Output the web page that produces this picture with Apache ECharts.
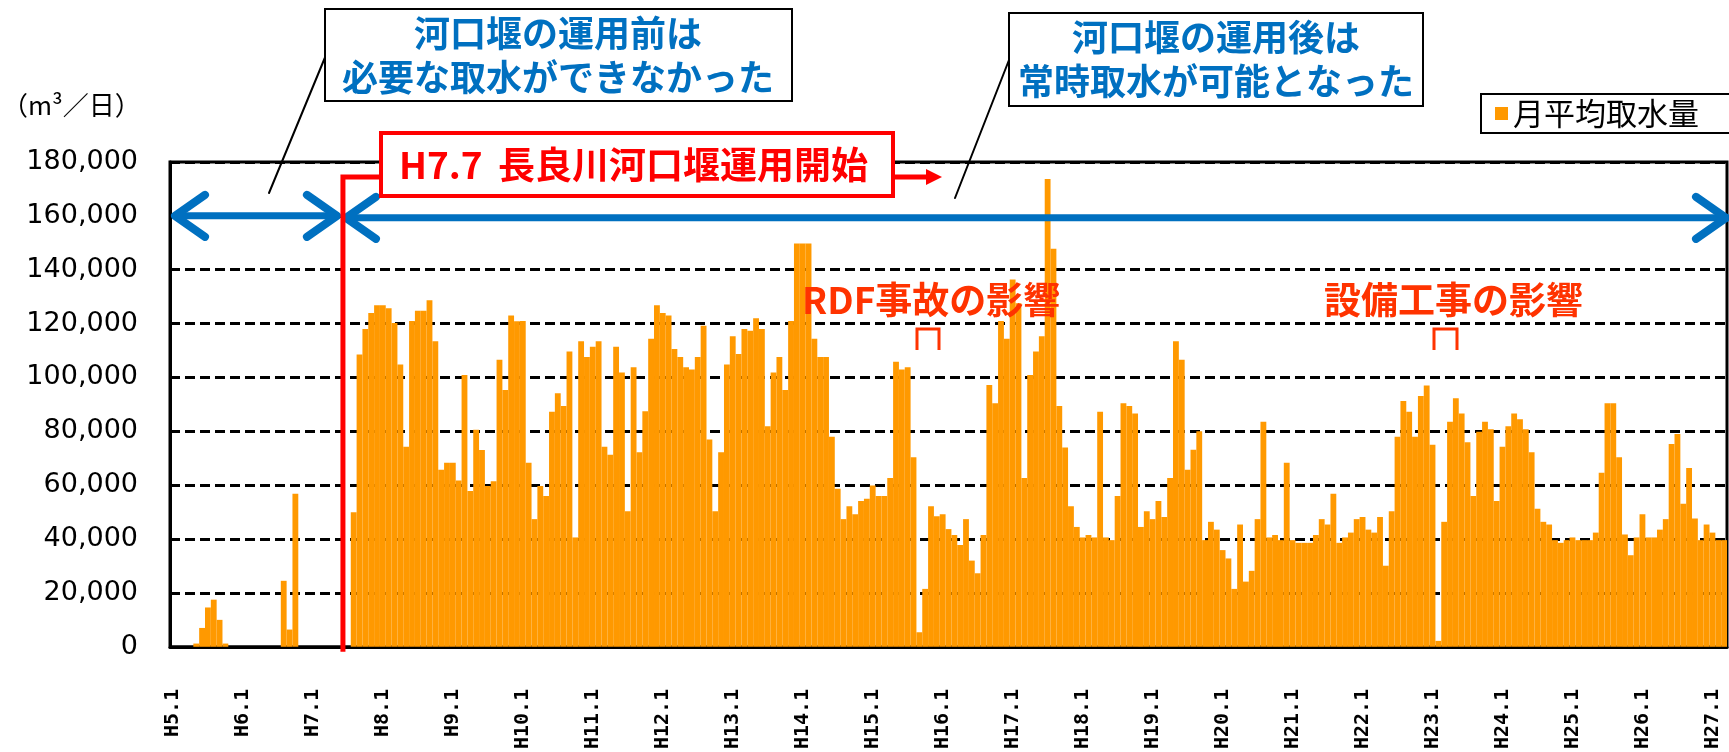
<!DOCTYPE html>
<html>
<head>
<meta charset="utf-8">
<title>長良川河口堰 月平均取水量</title>
<script src="https://cdn.jsdelivr.net/npm/echarts@6/dist/echarts.min.js"></script>
<style>
html, body { margin: 0; padding: 0; background: #fff; }
#container { width: 1729px; height: 752px; }
</style>
</head>
<body>
<div id="container"></div>
<script>
// 平成の年 (H5.1 ～ H27.3 の月別)
var years = [5, 6, 7, 8, 9, 10, 11, 12, 13, 14, 15, 16, 17, 18, 19, 20, 21, 22, 23, 24, 25, 26, 27];
var lastMonth = 3;

// 月平均取水量 (m3/日), 1行 = 1年 (1月～12月)
var intake = [
	0, 0, 0, 0, 1200, 7000, 14600, 17500, 10000, 1200, 0, 0,                        // H5
	0, 0, 0, 0, 0, 0, 0, 24500, 6400, 56800, 0, 0,                                  // H6
	0, 0, 0, 0, 0, 0, 0, 50000, 108500, 118000, 123900, 126800,                     // H7
	126800, 125700, 120200, 104800, 74300, 121000, 124800, 124800, 128700, 113400, 65700, 68300, // H8
	68300, 61700, 100900, 57800, 80600, 73100, 59700, 61500, 106600, 95300, 123000, 120900,     // H9
	121000, 68300, 47400, 59700, 56000, 87300, 94100, 89400, 109600, 40600, 113400, 107600,     // H10
	111400, 113400, 74300, 71300, 111400, 101800, 50300, 103800, 72200, 87500, 114400, 126800,  // H11
	123900, 123000, 110600, 107600, 103800, 103000, 107600, 119200, 77000, 50300, 72200, 104800, // H12
	115300, 108700, 118000, 117300, 122000, 118000, 81900, 101800, 107600, 95300, 121000, 149700, // H13
	149700, 149700, 114400, 107600, 107600, 78000, 58700, 47400, 52200, 49200, 54100, 55000,    // H14
	59900, 56000, 56000, 62700, 105800, 103000, 103800, 70400, 5400, 21500, 52200, 48500,       // H15
	49200, 43700, 41500, 37800, 47400, 32000, 27300, 41500, 97200, 90400, 121000, 114400,       // H16
	136400, 127600, 62700, 100900, 109600, 115300, 173700, 147800, 89400, 74000, 52200, 44500,  // H17
	40600, 41500, 40600, 87300, 40600, 39600, 56000, 90400, 89400, 86600, 44500, 50300,         // H18
	47400, 54100, 48200, 62700, 113400, 106600, 65700, 73200, 80000, 39600, 46400, 43500,       // H19
	35900, 32800, 21500, 45400, 24200, 28200, 47400, 83600, 40600, 41500, 39600, 68300,         // H20
	39600, 38600, 38600, 38600, 41500, 47400, 45400, 56800, 38600, 40600, 42400, 47400,         // H21
	48200, 43500, 42400, 48200, 30100, 50300, 78000, 91300, 87300, 78000, 93100, 97000,         // H22
	75000, 2200, 46400, 83600, 92300, 86600, 75900, 56000, 79800, 83600, 80800, 54100,          // H23
	74300, 81900, 86600, 84500, 80800, 72200, 51300, 46400, 45400, 39600, 38600, 39600,         // H24
	40600, 39600, 39600, 39600, 42400, 64600, 90400, 90400, 70400, 41700, 34000, 40600,         // H25
	49200, 40600, 40600, 43500, 47400, 75300, 79000, 53100, 66400, 47600, 39600, 45400,         // H26
	42400, 39600, 39600                                                             // H27
];

// 目盛
var yMax = 180000;
var yStep = 20000;

var categories = [];
years.forEach(function(y) {
	for (var m = 1; m <= 12; m++) {
		if (y === years[years.length - 1] && m > lastMonth) return;
		categories.push('H' + y + '.' + m);
	}
});

var NUM_FONT = 'DejaVu Sans';
var MONO_FONT = 'DejaVu Sans Mono';
var JP_FONT = '"Noto Sans CJK JP"';
var BLUE = '#0070C0';
var RED = '#FF0000';
var NOTE_RED = '#FF3300';

var dom = document.getElementById("container");
var myChart = echarts.init(dom);

var option = {
	animation: false,
	backgroundColor: '#fff',
	grid: {
		left: 170,
		right: 2,
		top: 162,
		bottom: 102,
		show: true,
		borderColor: '#000',
		borderWidth: 3
	},
	legend: {
		left: 1481,
		top: 94,
		selectedMode: false,
		icon: 'rect',
		itemWidth: 13,
		itemHeight: 13,
		padding: [4, 60, 4, 14],
		borderColor: '#000',
		borderWidth: 2,
		textStyle: {
			color: '#000',
			fontSize: 31,
			fontFamily: JP_FONT
		},
		data: ['月平均取水量']
	},
	xAxis: {
		type: 'category',
		data: categories,
		boundaryGap: true,
		axisLine: { lineStyle: { color: '#000', width: 3 } },
		axisTick: {
			inside: true,
			length: 7,
			interval: function(idx) { return idx % 12 === 0; },
			lineStyle: { color: '#000', width: 2 }
		},
		axisLabel: {
			interval: function(idx) { return idx % 12 === 0; },
			rotate: 90,
			margin: 42,
			color: '#000',
			fontSize: 20,
			fontWeight: 'bold',
			fontFamily: MONO_FONT
		},
		splitLine: { show: false }
	},
	yAxis: {
		type: 'value',
		min: 0,
		max: yMax,
		interval: yStep,
		axisLine: { show: true, lineStyle: { color: '#000', width: 3 } },
		axisTick: { show: true, inside: true, length: 6, lineStyle: { color: '#000', width: 2 } },
		axisLabel: {
			margin: 32,
			color: '#000',
			fontSize: 27,
			fontFamily: NUM_FONT,
			formatter: function(v) { return v.toLocaleString('en-US'); }
		},
		splitLine: { lineStyle: { color: '#000', width: 3, type: [10, 5] } }
	},
	series: [
		{
			name: '月平均取水量',
			type: 'bar',
			data: intake,
			barCategoryGap: '0%',
			itemStyle: { color: '#FF9900' }
		}
	]
};

myChart.setOption(option, true);

// 注記類は軸から位置を計算して描く
var y160 = myChart.convertToPixel({ yAxisIndex: 0 }, 160000);
var y0 = myChart.convertToPixel({ yAxisIndex: 0 }, 0);
var xFirst = myChart.convertToPixel({ xAxisIndex: 0 }, categories[0]);
var band = myChart.convertToPixel({ xAxisIndex: 0 }, categories[1]) - xFirst;
var gridLeft = xFirst - band / 2;
var gridRight = gridLeft + band * categories.length;
var xOpen = myChart.convertToPixel({ xAxisIndex: 0 }, 'H7.7') - band / 2 - 2;

function line(points, color, width, extra) {
	var el = {
		type: 'polyline',
		z: 100,
		shape: { points: points },
		style: { stroke: color, lineWidth: width, fill: null, lineCap: 'round', lineJoin: 'round' }
	};
	if (extra) {
		for (var k in extra) el.style[k] = extra[k];
	}
	return el;
}

function head(x, y, dir) {
	return line([[x - dir * 30, y - 21], [x, y], [x - dir * 30, y + 21]], BLUE, 8);
}

function label(text, x, y, size, color, weight, align) {
	return {
		type: 'text',
		z: 110,
		style: {
			text: text,
			x: x,
			y: y,
			fill: color,
			font: (weight || 'normal') + ' ' + size + 'px ' + JP_FONT,
			align: align || 'center',
			textAlign: align || 'center',
			verticalAlign: 'middle',
			textVerticalAlign: 'middle'
		}
	};
}

function box(x, y, w, h, stroke, width) {
	return {
		type: 'rect',
		z: 105,
		shape: { x: x, y: y, width: w, height: h },
		style: { fill: '#fff', stroke: stroke, lineWidth: width }
	};
}

var graphics = [
	// 単位
	label('（m³／日）', 2, 105, 26, '#000', 'normal', 'left'),

	// 運用前
	line([[326, 55], [269, 193]], '#000', 2),
	box(325, 9, 467, 92, '#000', 2),
	label('河口堰の運用前は', 558, 33, 36, BLUE, 'bold'),
	label('必要な取水ができなかった', 558, 77, 36, BLUE, 'bold'),

	// 運用後
	line([[1009, 60], [955, 198]], '#000', 2),
	box(1009, 13, 414, 93, '#000', 2),
	label('河口堰の運用後は', 1216, 37, 36, BLUE, 'bold'),
	label('常時取水が可能となった', 1216, 81, 36, BLUE, 'bold'),

	// 青の両矢印 (160,000 の位置)
	line([[gridLeft + 5, y160], [xOpen - 6, y160]], BLUE, 7),
	head(gridLeft + 5, y160, -1),
	head(xOpen - 6, y160, 1),
	line([[xOpen + 3, y160 + 2], [gridRight, y160 + 2]], BLUE, 7),
	head(xOpen + 3, y160 + 2, -1),
	head(gridRight - 1, y160 + 2, 1),

	// 運用開始の赤線
	line([[xOpen, y0 + 5], [xOpen, 177], [381, 177]], RED, 5, { lineCap: 'butt', lineJoin: 'miter' }),
	box(381, 133, 512, 63, RED, 4),
	label('H7.7', 399, 165, 37, RED, 'bold', 'left'),
	label('長良川河口堰運用開始', 498, 165, 37, RED, 'bold', 'left'),
	line([[893, 177], [928, 177]], RED, 5, { lineCap: 'butt' }),
	{
		type: 'polygon',
		z: 100,
		shape: { points: [[926, 169], [942, 177], [926, 185]] },
		style: { fill: RED }
	},

	// 影響の注記
	label('RDF事故の影響', 802, 300, 37, NOTE_RED, 'bold', 'left'),
	line([[917, 350], [917, 329], [939, 329], [939, 350]], NOTE_RED, 3, { lineCap: 'butt', lineJoin: 'miter' }),
	label('設備工事の影響', 1324, 300, 37, NOTE_RED, 'bold', 'left'),
	line([[1434, 350], [1434, 329], [1457, 329], [1457, 350]], NOTE_RED, 3, { lineCap: 'butt', lineJoin: 'miter' })
];

myChart.setOption({ graphic: graphics });
</script>
</body>
</html>
